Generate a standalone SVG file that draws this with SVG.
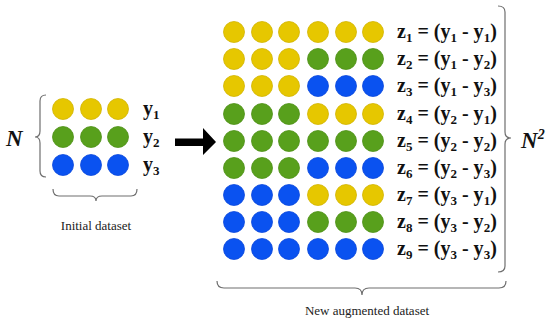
<svg xmlns="http://www.w3.org/2000/svg" width="550" height="323" viewBox="0 0 550 323">
<style>
.Y{fill:#E6C700;stroke:#D2B400;stroke-width:0.8}
.G{fill:#58A01C;stroke:#4E9016;stroke-width:0.8}
.B{fill:#0A52F0;stroke:#0A48DC;stroke-width:0.8}
.lbl{font-family:"Liberation Serif",serif;font-weight:bold;font-size:20px;fill:#111}
.sub{font-size:13px}
.cap{font-family:"Liberation Serif",serif;font-size:13px;fill:#222}
.brace{fill:none;stroke:#6e6e6e;stroke-width:1.2}
.big{font-family:"Liberation Serif",serif;font-weight:bold;font-style:italic;fill:#111}
</style>
<defs>
<circle id="c" r="10.5"/>
</defs>
<rect width="550" height="323" fill="#fff"/>

<g id="initial">
<g id="row-y1"><use href="#c" x="63" y="109" class="Y"/><use href="#c" x="91" y="109" class="Y"/><use href="#c" x="118" y="109" class="Y"/><text class="lbl" x="143" y="115">y<tspan class="sub" dy="4">1</tspan></text></g>
<g id="row-y2"><use href="#c" x="63" y="137" class="G"/><use href="#c" x="91" y="137" class="G"/><use href="#c" x="118" y="137" class="G"/><text class="lbl" x="143" y="143">y<tspan class="sub" dy="4">2</tspan></text></g>
<g id="row-y3"><use href="#c" x="63" y="165" class="B"/><use href="#c" x="91" y="165" class="B"/><use href="#c" x="118" y="165" class="B"/><text class="lbl" x="143" y="171">y<tspan class="sub" dy="4">3</tspan></text></g>
<text class="big" x="6" y="146" font-size="23">N</text>
<text class="cap" x="96" y="230" text-anchor="middle">Initial dataset</text>
</g>

<g id="augmented">
<g id="row-z1"><use href="#c" x="234" y="32" class="Y"/><use href="#c" x="262" y="32" class="Y"/><use href="#c" x="289" y="32" class="Y"/><use href="#c" x="318" y="32" class="Y"/><use href="#c" x="346" y="32" class="Y"/><use href="#c" x="373" y="32" class="Y"/><text class="lbl" x="397" y="38">z<tspan class="sub" dy="4">1</tspan><tspan dy="-4"> = (y</tspan><tspan class="sub" dy="4">1</tspan><tspan dy="-4"> - y</tspan><tspan class="sub" dy="4">1</tspan><tspan dy="-4">)</tspan></text></g>
<g id="row-z2"><use href="#c" x="234" y="59" class="Y"/><use href="#c" x="262" y="59" class="Y"/><use href="#c" x="289" y="59" class="Y"/><use href="#c" x="318" y="59" class="G"/><use href="#c" x="346" y="59" class="G"/><use href="#c" x="373" y="59" class="G"/><text class="lbl" x="397" y="65">z<tspan class="sub" dy="4">2</tspan><tspan dy="-4"> = (y</tspan><tspan class="sub" dy="4">1</tspan><tspan dy="-4"> - y</tspan><tspan class="sub" dy="4">2</tspan><tspan dy="-4">)</tspan></text></g>
<g id="row-z3"><use href="#c" x="234" y="86" class="Y"/><use href="#c" x="262" y="86" class="Y"/><use href="#c" x="289" y="86" class="Y"/><use href="#c" x="318" y="86" class="B"/><use href="#c" x="346" y="86" class="B"/><use href="#c" x="373" y="86" class="B"/><text class="lbl" x="397" y="92">z<tspan class="sub" dy="4">3</tspan><tspan dy="-4"> = (y</tspan><tspan class="sub" dy="4">1</tspan><tspan dy="-4"> - y</tspan><tspan class="sub" dy="4">3</tspan><tspan dy="-4">)</tspan></text></g>
<g id="row-z4"><use href="#c" x="234" y="114" class="G"/><use href="#c" x="262" y="114" class="G"/><use href="#c" x="289" y="114" class="G"/><use href="#c" x="318" y="114" class="Y"/><use href="#c" x="346" y="114" class="Y"/><use href="#c" x="373" y="114" class="Y"/><text class="lbl" x="397" y="120">z<tspan class="sub" dy="4">4</tspan><tspan dy="-4"> = (y</tspan><tspan class="sub" dy="4">2</tspan><tspan dy="-4"> - y</tspan><tspan class="sub" dy="4">1</tspan><tspan dy="-4">)</tspan></text></g>
<g id="row-z5"><use href="#c" x="234" y="141" class="G"/><use href="#c" x="262" y="141" class="G"/><use href="#c" x="289" y="141" class="G"/><use href="#c" x="318" y="141" class="G"/><use href="#c" x="346" y="141" class="G"/><use href="#c" x="373" y="141" class="G"/><text class="lbl" x="397" y="147">z<tspan class="sub" dy="4">5</tspan><tspan dy="-4"> = (y</tspan><tspan class="sub" dy="4">2</tspan><tspan dy="-4"> - y</tspan><tspan class="sub" dy="4">2</tspan><tspan dy="-4">)</tspan></text></g>
<g id="row-z6"><use href="#c" x="234" y="168" class="G"/><use href="#c" x="262" y="168" class="G"/><use href="#c" x="289" y="168" class="G"/><use href="#c" x="318" y="168" class="B"/><use href="#c" x="346" y="168" class="B"/><use href="#c" x="373" y="168" class="B"/><text class="lbl" x="397" y="174">z<tspan class="sub" dy="4">6</tspan><tspan dy="-4"> = (y</tspan><tspan class="sub" dy="4">2</tspan><tspan dy="-4"> - y</tspan><tspan class="sub" dy="4">3</tspan><tspan dy="-4">)</tspan></text></g>
<g id="row-z7"><use href="#c" x="234" y="195" class="B"/><use href="#c" x="262" y="195" class="B"/><use href="#c" x="289" y="195" class="B"/><use href="#c" x="318" y="195" class="Y"/><use href="#c" x="346" y="195" class="Y"/><use href="#c" x="373" y="195" class="Y"/><text class="lbl" x="397" y="201">z<tspan class="sub" dy="4">7</tspan><tspan dy="-4"> = (y</tspan><tspan class="sub" dy="4">3</tspan><tspan dy="-4"> - y</tspan><tspan class="sub" dy="4">1</tspan><tspan dy="-4">)</tspan></text></g>
<g id="row-z8"><use href="#c" x="234" y="222" class="B"/><use href="#c" x="262" y="222" class="B"/><use href="#c" x="289" y="222" class="B"/><use href="#c" x="318" y="222" class="G"/><use href="#c" x="346" y="222" class="G"/><use href="#c" x="373" y="222" class="G"/><text class="lbl" x="397" y="228">z<tspan class="sub" dy="4">8</tspan><tspan dy="-4"> = (y</tspan><tspan class="sub" dy="4">3</tspan><tspan dy="-4"> - y</tspan><tspan class="sub" dy="4">2</tspan><tspan dy="-4">)</tspan></text></g>
<g id="row-z9"><use href="#c" x="234" y="249" class="B"/><use href="#c" x="262" y="249" class="B"/><use href="#c" x="289" y="249" class="B"/><use href="#c" x="318" y="249" class="B"/><use href="#c" x="346" y="249" class="B"/><use href="#c" x="373" y="249" class="B"/><text class="lbl" x="397" y="255">z<tspan class="sub" dy="4">9</tspan><tspan dy="-4"> = (y</tspan><tspan class="sub" dy="4">3</tspan><tspan dy="-4"> - y</tspan><tspan class="sub" dy="4">3</tspan><tspan dy="-4">)</tspan></text></g>
<text class="big" x="521" y="148" font-size="23">N<tspan font-size="14" dy="-9">2</tspan></text>
<text class="cap" x="367" y="315" text-anchor="middle">New augmented dataset</text>
</g>

<g id="connectors">
<path class="brace" d="M46,95 Q40,95 40,101 L40,131 Q40,137 35,137 Q40,137 40,143 L40,171 Q40,177 46,177"/>
<path class="brace" d="M53,189 Q53,196 59,196 L90,196 Q96,196 96,201 Q96,196 102,196 L131,196 Q137,196 137,189"/>
<path class="brace" d="M498,6 Q505,6 505,12 L505,132 Q505,138 511,138 Q505,138 505,144 L505,266 Q505,272 498,272"/>
<path class="brace" d="M217,281 Q217,288 224,288 L355,288 Q362,288 362,295 Q362,288 369,288 L499,288 Q506,288 506,281"/>
<path d="M175,138.5 L203,138.5 L203,128 L216,142 L203,155 L203,146 L175,146 Z" fill="#000"/>
</g>
</svg>
